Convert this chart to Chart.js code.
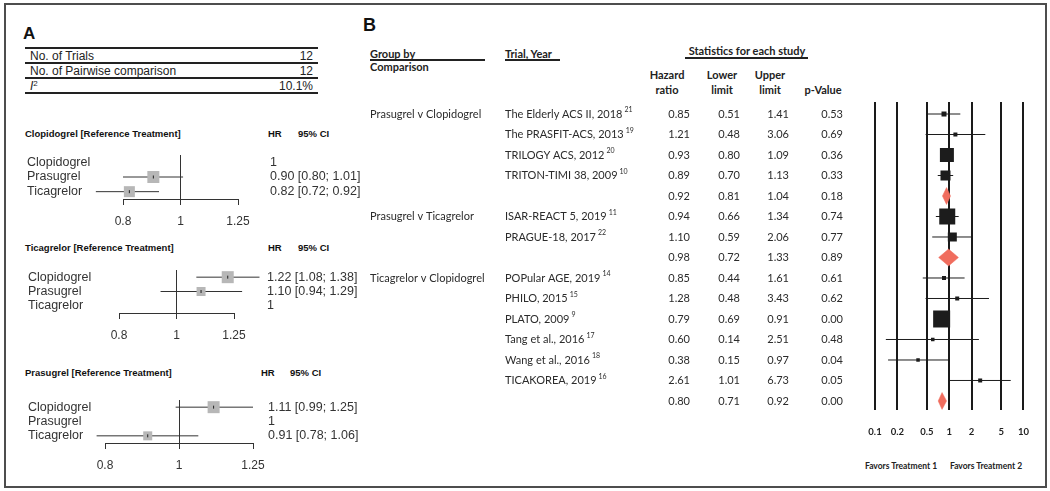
<!DOCTYPE html>
<html>
<head>
<meta charset="utf-8">
<script src="https://cdn.jsdelivr.net/npm/chart.js@4.4.1/dist/chart.umd.min.js"></script>
<style>
html,body{margin:0;padding:0;background:#fff;}
#fig{position:relative;width:1050px;height:491px;overflow:hidden;background:#fff;}
.abs{position:absolute;white-space:nowrap;}
#frame{position:absolute;left:4px;top:3px;width:1043px;height:485px;box-sizing:border-box;border:2px solid #4d4d4d;}
canvas{position:absolute;}
sup{font-size:8px;vertical-align:4px;line-height:0;}
</style>
</head>
<body>
<div id="fig"><div id="frame"></div></div>
<script>
// ================= DATA =================
// Panel A: network summary
const summaryLabels = ['No. of Trials', 'No. of Pairwise comparison', '<i>I</i><sup>2</sup>'];
const summaryValues = ['12', '12', '10.1%'];

// Panel A: network meta-analysis, HR vs each reference treatment
const treatments = ['Clopidogrel', 'Prasugrel', 'Ticagrelor'];
const referenceTreatments = ['Clopidogrel', 'Ticagrelor', 'Prasugrel'];
const hrRefClopidogrel = [1, 0.90, 0.82];
const loRefClopidogrel = [null, 0.80, 0.72];
const hiRefClopidogrel = [null, 1.01, 0.92];
const hrRefTicagrelor = [1.22, 1.10, 1];
const loRefTicagrelor = [1.08, 0.94, null];
const hiRefTicagrelor = [1.38, 1.29, null];
const hrRefPrasugrel = [1.11, 1, 0.91];
const loRefPrasugrel = [0.99, null, 0.78];
const hiRefPrasugrel = [1.25, null, 1.06];
const nmaTicks = [0.8, 1, 1.25];

// Panel B: pairwise meta-analysis
const comparisonGroups = ['Prasugrel v Clopidogrel', 'Prasugrel v Ticagrelor', 'Ticagrelor v Clopidogrel'];
const trialsPerGroup = [4, 2, 6];
const trialNames = ['The Elderly ACS II, 2018', 'The PRASFIT-ACS, 2013', 'TRILOGY ACS, 2012', 'TRITON-TIMI 38, 2009',
  'ISAR-REACT 5, 2019', 'PRAGUE-18, 2017',
  'POPular AGE, 2019', 'PHILO, 2015', 'PLATO, 2009', 'Tang et al., 2016', 'Wang et al., 2016', 'TICAKOREA, 2019'];
const trialRefs = ['21', '19', '20', '10', '11', '22', '14', '15', '9', '17', '18', '16'];
// rows in table order (each group followed by its pooled row)
const hazardRatio = [0.85, 1.21, 0.93, 0.89, 0.92, 0.94, 1.10, 0.98, 0.85, 1.28, 0.79, 0.60, 0.38, 2.61, 0.80];
const lowerLimit  = [0.51, 0.48, 0.80, 0.70, 0.81, 0.66, 0.59, 0.72, 0.44, 0.48, 0.69, 0.14, 0.15, 1.01, 0.71];
const upperLimit  = [1.41, 3.06, 1.09, 1.13, 1.04, 1.34, 2.06, 1.33, 1.61, 3.43, 0.91, 2.51, 0.97, 6.73, 0.92];
const pValue      = [0.53, 0.69, 0.36, 0.33, 0.18, 0.74, 0.77, 0.89, 0.61, 0.62, 0.00, 0.48, 0.04, 0.05, 0.00];
const forestTicks = [0.1, 0.2, 0.5, 1, 2, 5, 10];
const favorsLabels = ['Favors Treatment 1', 'Favors Treatment 2'];

// ================= STYLE =================
const nmaSquarePx = [[0, 12, 11], [12, 9, 0], [12, 0, 9]];
const trialSquarePx = [5, 4, 14, 10, 16, 9, 4, 4, 17, 3.5, 3.5, 4];
const DIAMOND = '#f06d5e';
const ARIAL = '"Liberation Sans", Arial, sans-serif';
const LATO = 'Lato, "Open Sans", sans-serif';

Chart.defaults.animation = false;
Chart.defaults.responsive = false;
Chart.defaults.plugins.legend.display = false;
Chart.defaults.plugins.tooltip.enabled = false;

const fig = document.getElementById('fig');

function txt(s, x, cy, o = {}) {
  const d = document.createElement('div');
  d.className = 'abs';
  const size = o.size || 12;
  const lh = Math.round(size * 1.25);
  d.style.font = `${o.italic ? 'italic ' : ''}${o.bold ? 'bold ' : ''}${size}px ${o.family || ARIAL}`;
  d.style.lineHeight = lh + 'px';
  d.style.top = (cy - lh / 2) + 'px';
  d.style.left = x + 'px';
  d.style.color = o.color || '#333';
  if (o.align === 'right') d.style.transform = 'translateX(-100%)';
  else if (o.align === 'center') d.style.transform = 'translateX(-50%)';
  if (o.html) d.innerHTML = s; else d.textContent = s;
  fig.appendChild(d);
}
function hline(x1, x2, y, t, c) {
  const d = document.createElement('div');
  d.className = 'abs';
  d.style.left = x1 + 'px'; d.style.top = (y - t / 2) + 'px';
  d.style.width = (x2 - x1) + 'px'; d.style.height = t + 'px';
  d.style.background = c || '#222';
  fig.appendChild(d);
}

// ================= PANEL A =================
txt('A', 23, 33, {size: 17, bold: true, color: '#111'});
[48, 63, 78, 93].forEach((y, i) => hline(25, 318, y, 2, '#222'));
summaryLabels.forEach((l, i) => {
  const cy = 56 + i * 15;
  txt(l, 30, cy, {size: 12, html: true, color: '#222'});
  txt(summaryValues[i], 313, cy, {size: 12, align: 'right', color: '#222'});
});

const nmaHR = [hrRefClopidogrel, hrRefTicagrelor, hrRefPrasugrel];
const nmaLO = [loRefClopidogrel, loRefTicagrelor, loRefPrasugrel];
const nmaHI = [hiRefClopidogrel, hiRefTicagrelor, hiRefPrasugrel];
const A_W = 365;
const nmaLayout = [
  {top: 140, h: 90, areaTop: 155, axisY: 199, x0: 123, x1: 238, nameX: 27, hrX: 270, titleY: 134, hrHeadX: 268, ciHeadX: 298},
  {top: 255, h: 90, areaTop: 270, axisY: 313, x0: 119, x1: 234, nameX: 28, hrX: 267, titleY: 248, hrHeadX: 268, ciHeadX: 298},
  {top: 385, h: 97, areaTop: 400, axisY: 443, x0: 105, x1: 253, nameX: 28, hrX: 268, titleY: 373, hrHeadX: 261, ciHeadX: 290}
];

function fmt2(v) { return v.toFixed(2); }

nmaLayout.forEach((L, p) => {
  const hr = nmaHR[p], lo = nmaLO[p], hi = nmaHI[p];
  txt(referenceTreatments[p] + ' [Reference Treatment]', 25, L.titleY, {size: 9.5, bold: true, color: '#111'});
  txt('HR', L.hrHeadX, L.titleY, {size: 9.5, bold: true, color: '#111'});
  txt('95% CI', L.ciHeadX, L.titleY, {size: 9.5, bold: true, color: '#111'});

  const cv = document.createElement('canvas');
  cv.width = A_W; cv.height = L.h;
  cv.style.left = '0px'; cv.style.top = L.top + 'px';
  fig.appendChild(cv);

  const whisk = [], sq = [], sqR = [];
  treatments.forEach((t, i) => {
    if (lo[i] != null) {
      whisk.push({x: lo[i], y: i}, {x: hi[i], y: i}, {x: null, y: null});
      sq.push({x: hr[i], y: i});
      sqR.push(nmaSquarePx[p][i] / Math.SQRT2);
    }
  });

  const textPlugin = {
    id: 'nmaText' + p,
    afterDraw(chart) {
      const ctx = chart.ctx, ys = chart.scales.y;
      ctx.save();
      ctx.fillStyle = '#333';
      ctx.textBaseline = 'middle';
      ctx.textAlign = 'left';
      ctx.font = '12.5px ' + ARIAL;
      treatments.forEach((t, i) => {
        const py = ys.getPixelForValue(i);
        ctx.fillText(t, L.nameX, py);
        const s = lo[i] == null ? '1' : `${fmt2(hr[i])} [${fmt2(lo[i])}; ${fmt2(hi[i])}]`;
        ctx.fillText(s, L.hrX, py);
      });
      ctx.restore();
    }
  };

  new Chart(cv, {
    type: 'scatter',
    data: {
      datasets: [
        {data: sq, pointStyle: 'line', rotation: 90, pointRadius: 1.5, borderColor: '#222', pointBorderColor: '#222', pointBorderWidth: 1, clip: false, order: 0},
        {data: sq, pointStyle: 'rect', pointRadius: sqR, pointBackgroundColor: '#b7b7b7', pointBorderWidth: 0, clip: false, order: 1},
        {data: whisk, showLine: true, spanGaps: false, borderColor: '#333', borderWidth: 1, pointRadius: 0, clip: false, order: 2}
      ]
    },
    options: {
      layout: {padding: {left: L.x0, right: A_W - L.x1, top: L.areaTop - L.top, bottom: 0}},
      scales: {
        x: {
          type: 'logarithmic', min: 0.8, max: 1.25, position: 'bottom',
          afterBuildTicks: s => { s.ticks = nmaTicks.map(v => ({value: v})); },
          afterFit: s => { s.height = L.top + L.h - L.axisY; },
          grid: {
            drawOnChartArea: true, drawTicks: true, tickLength: 6, lineWidth: 1,
            color: c => (c.tick && c.tick.value === 1) ? '#333' : 'rgba(0,0,0,0)',
            tickColor: '#333'
          },
          border: {display: true, color: '#333', width: 1},
          ticks: {color: '#333', font: {family: ARIAL, size: 12}, padding: 9, autoSkip: false, maxRotation: 0, callback: v => String(v)}
        },
        y: {type: 'linear', min: -0.5, max: 2.5, reverse: true, display: false}
      }
    },
    plugins: [textPlugin]
  });
});

// ================= PANEL B =================
txt('B', 363, 25, {size: 18, bold: true, color: '#111'});
txt('Group by', 370, 54, {size: 11, bold: true, family: LATO, color: '#222'});
txt('Comparison', 370, 67, {size: 11, bold: true, family: LATO, color: '#222'});
hline(370, 485, 60, 1.2, '#222');
txt('Trial, Year', 505, 54, {size: 11, bold: true, family: LATO, color: '#222'});
hline(505, 560, 60, 1.2, '#222');
txt('Statistics for each study', 747, 51, {size: 11, bold: true, family: LATO, align: 'center', color: '#222'});
hline(685, 808, 58, 1.2, '#222');
[['Hazard', 'ratio', 667], ['Lower', 'limit', 722], ['Upper', 'limit', 770]].forEach(h => {
  txt(h[0], h[2], 75, {size: 11, bold: true, family: LATO, align: 'center', color: '#222'});
  txt(h[1], h[2], 90, {size: 11, bold: true, family: LATO, align: 'center', color: '#222'});
});
txt('p-Value', 823, 90, {size: 11, bold: true, family: LATO, align: 'center', color: '#222'});
txt(favorsLabels[0], 901, 466, {size: 8.5, bold: true, family: LATO, align: 'center', color: '#222'});
txt(favorsLabels[1], 986, 466, {size: 8.5, bold: true, family: LATO, align: 'center', color: '#222'});

// build rows
const rows = [];
let k = 0;
comparisonGroups.forEach((g, gi) => {
  for (let j = 0; j < trialsPerGroup[gi]; j++) {
    rows.push({group: j === 0 ? g : '', name: trialNames[k], ref: trialRefs[k], pooled: false, trial: k});
    k++;
  }
  rows.push({group: '', name: '', ref: '', pooled: true});
});

const B_LEFT = 365, B_TOP = 90, B_W = 680, B_H = 390;
const cvB = document.createElement('canvas');
cvB.width = B_W; cvB.height = B_H;
cvB.style.left = B_LEFT + 'px'; cvB.style.top = B_TOP + 'px';
fig.appendChild(cvB);

const bWhisk = [], bSq = [], bSqR = [];
rows.forEach((r, i) => {
  if (!r.pooled) {
    bWhisk.push({x: lowerLimit[i], y: i}, {x: upperLimit[i], y: i}, {x: null, y: null});
    bSq.push({x: hazardRatio[i], y: i});
    bSqR.push(trialSquarePx[r.trial] / Math.SQRT2);
  }
});
const bDatasets = [
  {data: bSq, pointStyle: 'rect', pointRadius: bSqR, pointBackgroundColor: '#1c1c1c', pointBorderWidth: 0, clip: false, order: 0},
  {data: bWhisk, showLine: true, spanGaps: false, borderColor: '#1c1c1c', borderWidth: 1, pointRadius: 0, clip: false, order: 2}
];
const DH = 0.41;
rows.forEach((r, i) => {
  if (r.pooled) {
    bDatasets.push({
      data: [{x: lowerLimit[i], y: i}, {x: hazardRatio[i], y: i - DH}, {x: upperLimit[i], y: i}, {x: hazardRatio[i], y: i + DH}, {x: lowerLimit[i], y: i}],
      showLine: true, fill: 'shape', backgroundColor: DIAMOND, borderColor: DIAMOND, borderWidth: 0.5,
      pointRadius: 0, tension: 0, clip: false, order: 1
    });
  }
});

const bTextPlugin = {
  id: 'bText',
  afterDraw(chart) {
    const ctx = chart.ctx, ys = chart.scales.y;
    ctx.save();
    ctx.fillStyle = '#2b2b2b';
    ctx.textBaseline = 'middle';
    rows.forEach((r, i) => {
      const py = ys.getPixelForValue(i);
      ctx.font = '11px ' + LATO;
      ctx.textAlign = 'left';
      if (r.group) ctx.fillText(r.group, 370 - B_LEFT, py);
      if (r.name) {
        ctx.fillText(r.name, 505 - B_LEFT, py);
        const w = ctx.measureText(r.name).width;
        ctx.font = '7px ' + LATO;
        ctx.fillText(r.ref, 505 - B_LEFT + w + 2, py - 4);
        ctx.font = '11px ' + LATO;
      }
      ctx.textAlign = 'right';
      ctx.fillText(fmt2(hazardRatio[i]), 690 - B_LEFT, py);
      ctx.fillText(fmt2(lowerLimit[i]), 740 - B_LEFT, py);
      ctx.fillText(fmt2(upperLimit[i]), 789 - B_LEFT, py);
      ctx.fillText(fmt2(pValue[i]), 843 - B_LEFT, py);
    });
    ctx.restore();
  }
};

new Chart(cvB, {
  type: 'scatter',
  data: {datasets: bDatasets},
  options: {
    layout: {padding: {left: 875 - B_LEFT, right: B_LEFT + B_W - 1024, top: 102 - B_TOP, bottom: 0}},
    scales: {
      x: {
        type: 'logarithmic', min: 0.1, max: 10, position: 'bottom',
        afterBuildTicks: s => { s.ticks = forestTicks.map(v => ({value: v})); },
        afterFit: s => { s.height = B_TOP + B_H - 410; },
        grid: {drawOnChartArea: true, drawTicks: false, color: '#1a1a1a', lineWidth: 2},
        border: {display: false},
        ticks: {color: '#222', font: {family: LATO, size: 9.5, weight: 'bold'}, padding: 16, autoSkip: false, maxRotation: 0, callback: v => String(v)}
      },
      y: {type: 'linear', min: -0.585, max: 14.44, reverse: true, display: false}
    }
  },
  plugins: [bTextPlugin]
});
</script>
</body>
</html>
